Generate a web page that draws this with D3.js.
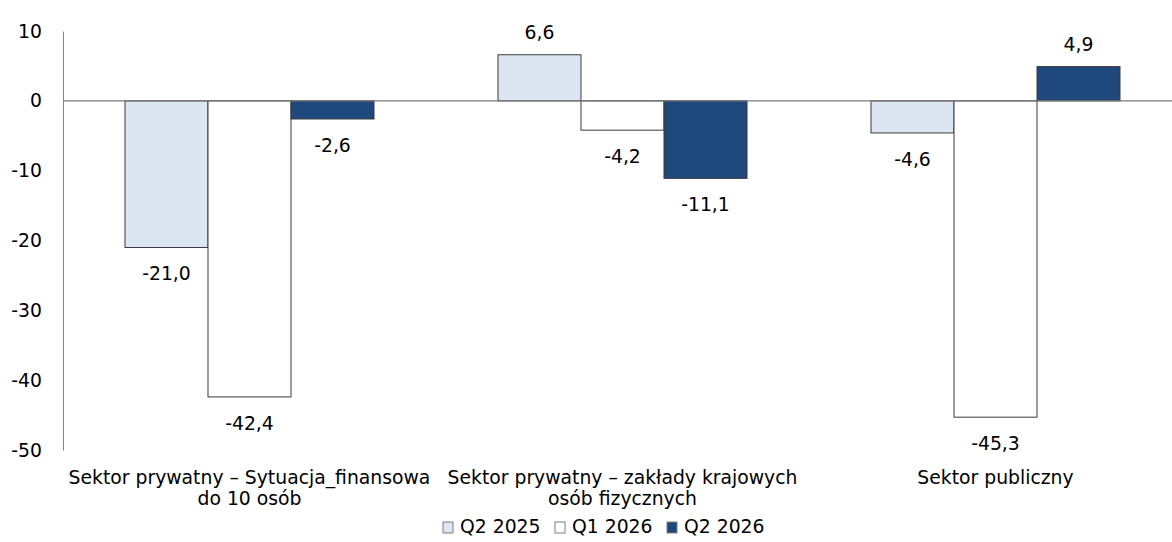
<!DOCTYPE html>
<html><head><meta charset="utf-8">
<script src="https://cdn.jsdelivr.net/npm/d3@7"></script>
<style>
html,body{margin:0;padding:0;background:#fff;}
svg{display:block;}
text{font-family:"DejaVu Sans",Verdana,sans-serif;fill:#000;}
</style></head>
<body><svg id="c" width="1172" height="542"></svg>
<script>
const categories = [
  ["Sektor prywatny – Sytuacja_finansowa", "do 10 osób"],
  ["Sektor prywatny – zakłady krajowych", "osób fizycznych"],
  ["Sektor publiczny"]
];
const seriesNames = ["Q2 2025", "Q1 2026", "Q2 2026"];
const q2_2025 = [-21.0, 6.6, -4.6];
const q1_2026 = [-42.4, -4.2, -45.3];
const q2_2026 = [-2.6, -11.1, 4.9];
const yTicks = [10, 0, -10, -20, -30, -40, -50];
const colors = ["#DCE6F2", "#FFFFFF", "#1F497D"];

const seriesValues = [q2_2025, q1_2026, q2_2026];
const catKeys = categories.map(c => c.join(" "));
const FS = 18.8;

const svg = d3.select("#c");
const x0 = d3.scaleBand().domain(catKeys).range([63, 1182]).paddingInner(0.3324).paddingOuter(0.1662);
const x1 = d3.scaleBand().domain(seriesNames).range([0, x0.bandwidth()]).padding(0);
const y = d3.scaleLinear().domain([-50, 10]).range([450, 31]);

// y axis
const yAxis = svg.append("g").attr("transform", "translate(63,0)")
  .call(d3.axisLeft(y).tickValues(yTicks).tickSize(0).tickPadding(21).tickFormat(d => String(d)));
yAxis.select(".domain").attr("stroke", "#868686").attr("stroke-width", 1);
yAxis.selectAll("text").style("font-size", FS + "px").style("font-family", '"DejaVu Sans",Verdana,sans-serif').attr("fill", "#000");

// bars
const data = [];
catKeys.forEach((c, i) => seriesNames.forEach((s, j) => data.push({c, s, j, v: seriesValues[j][i]})));

svg.append("g").selectAll("rect").data(data).join("rect")
  .attr("x", d => x0(d.c) + x1(d.s))
  .attr("width", x1.bandwidth())
  .attr("y", d => y(Math.max(0, d.v)))
  .attr("height", d => Math.abs(y(d.v) - y(0)))
  .attr("fill", d => colors[d.j])
  .attr("stroke", "#3a3a3a").attr("stroke-width", 1);

// zero line
svg.append("line").attr("x1", 63).attr("x2", 1172).attr("y1", y(0)).attr("y2", y(0))
  .attr("stroke", "#7a7a7a").attr("stroke-width", 1.2);

// value labels
svg.append("g").selectAll("text").data(data).join("text")
  .attr("x", d => x0(d.c) + x1(d.s) + x1.bandwidth() / 2)
  .attr("y", d => d.v >= 0 ? y(d.v) - 16 : y(d.v) + 33)
  .attr("text-anchor", "middle")
  .style("font-size", FS + "px")
  .text(d => d.v.toFixed(1).replace(".", ","));

// category labels
const cg = svg.append("g");
categories.forEach((lines, i) => {
  const t = cg.append("text").attr("text-anchor", "middle").style("font-size", FS + "px")
    .attr("x", x0(catKeys[i]) + x0.bandwidth() / 2).attr("y", 484);
  lines.forEach((l, k) => t.append("tspan").attr("x", x0(catKeys[i]) + x0.bandwidth() / 2)
    .attr("dy", k === 0 ? 0 : 21).text(l));
});

// legend
const legendX = [443, 555, 667];
const lg = svg.append("g");
seriesNames.forEach((s, j) => {
  lg.append("rect").attr("x", legendX[j]).attr("y", 522).attr("width", 10).attr("height", 11)
    .attr("fill", colors[j]).attr("stroke", "#7f7f7f").attr("stroke-width", 1);
  lg.append("text").attr("x", legendX[j] + 17).attr("y", 533).style("font-size", FS + "px").text(s);
});
</script></body></html>
